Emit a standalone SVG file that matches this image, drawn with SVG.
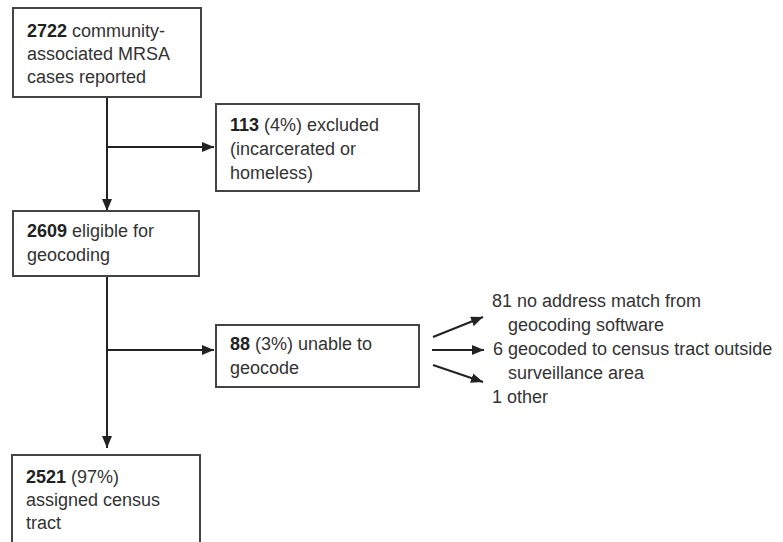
<svg xmlns="http://www.w3.org/2000/svg" width="783" height="542" viewBox="0 0 783 542">
<style>
.box{fill:#fff;stroke:#444;stroke-width:2}
.t{font-family:"Liberation Sans",Arial,sans-serif;font-size:18px;fill:#333}
.b{font-weight:bold;fill:#222}
.c{stroke:#222;stroke-width:2;fill:none}
</style>
<defs>
<marker id="a" viewBox="0 0 12 10" refX="12" refY="5" markerWidth="6" markerHeight="5" orient="auto">
<path d="M0,0 L12,5 L0,10 z" fill="#222"/>
</marker>
</defs>
<rect width="783" height="542" fill="#fff"/>
<g id="connectors">
<line class="c" x1="107" y1="97" x2="107" y2="211" marker-end="url(#a)"/>
<line class="c" x1="107" y1="147" x2="214" y2="147" marker-end="url(#a)"/>
<line class="c" x1="107" y1="276" x2="107" y2="448" marker-end="url(#a)"/>
<line class="c" x1="107" y1="350" x2="214" y2="350" marker-end="url(#a)"/>
<line class="c" x1="433" y1="337" x2="483" y2="317" marker-end="url(#a)"/>
<line class="c" x1="432" y1="350" x2="484" y2="350" marker-end="url(#a)"/>
<line class="c" x1="433" y1="365" x2="483" y2="382" marker-end="url(#a)"/>
</g>
<g id="n1">
<rect class="box" x="13" y="8" width="188" height="89"/>
<text class="t" x="27" y="37"><tspan class="b">2722</tspan> community-</text>
<text class="t" x="27" y="60">associated MRSA</text>
<text class="t" x="27" y="83">cases reported</text>
</g>
<g id="n2">
<rect class="box" x="216" y="104" width="203" height="87"/>
<text class="t" x="230" y="131"><tspan class="b">113</tspan> (4%) excluded</text>
<text class="t" x="230" y="155">(incarcerated or</text>
<text class="t" x="230" y="179">homeless)</text>
</g>
<g id="n3">
<rect class="box" x="13" y="211" width="186" height="65"/>
<text class="t" x="27" y="237"><tspan class="b">2609</tspan> eligible for</text>
<text class="t" x="27" y="261">geocoding</text>
</g>
<g id="n4">
<rect class="box" x="216" y="325" width="203" height="62"/>
<text class="t" x="230" y="350"><tspan class="b">88</tspan> (3%) unable to</text>
<text class="t" x="230" y="374">geocode</text>
</g>
<g id="n5">
<text class="t" x="492" y="307">81 no address match from</text>
<text class="t" x="508" y="331">geocoding software</text>
<text class="t" x="493" y="355">6 geocoded to census tract outside</text>
<text class="t" x="508" y="379">surveillance area</text>
<text class="t" x="492" y="403">1 other</text>
</g>
<g id="n6">
<rect class="box" x="12" y="455" width="188" height="95"/>
<text class="t" x="26" y="483"><tspan class="b">2521</tspan> (97%)</text>
<text class="t" x="26" y="506">assigned census</text>
<text class="t" x="26" y="529">tract</text>
</g>
</svg>
